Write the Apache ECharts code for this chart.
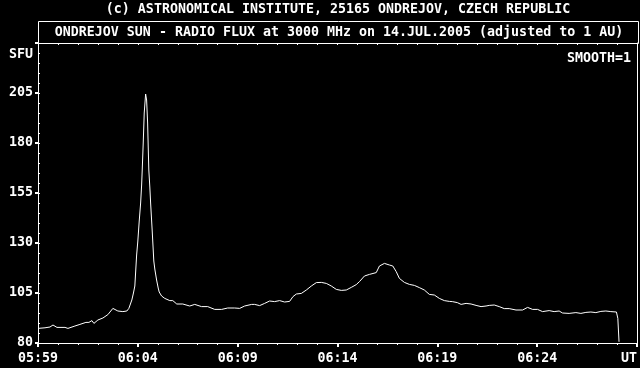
<!DOCTYPE html>
<html><head><meta charset="utf-8">
<script src="https://cdn.jsdelivr.net/npm/echarts@6/dist/echarts.min.js"></script>
<style>html,body{margin:0;padding:0;background:#000;}#c{width:640px;height:368px;}</style>
</head><body><div id="c"></div>
<script>
const headerText = '(c) ASTRONOMICAL INSTITUTE, 25165 ONDREJOV, CZECH REPUBLIC';
const titleText = 'ONDREJOV SUN - RADIO FLUX at 3000 MHz on 14.JUL.2005 (adjusted to 1 AU)';
const unitText = 'SFU';
const smoothText = 'SMOOTH=1';
const xTickLabels = ['05:59','06:04','06:09','06:14','06:19','06:24','UT'];
const yTickValues = [80,105,130,155,180,205];
// minutes after 05:59 UT
const minutesAfter0559 = [0.00,0.35,0.60,0.75,0.95,1.35,1.50,1.85,2.10,2.40,2.55,2.70,2.80,3.00,3.25,3.50,3.75,4.00,4.25,4.45,4.55,4.70,4.78,4.85,4.94,5.00,5.07,5.14,5.19,5.22,5.27,5.32,5.39,5.44,5.49,5.55,5.60,5.64,5.72,5.80,5.85,5.94,6.02,6.07,6.19,6.35,6.60,6.75,6.95,7.25,7.35,7.60,7.85,8.19,8.50,8.85,9.20,9.30,9.50,9.85,10.10,10.35,10.70,10.85,11.10,11.35,11.60,11.85,12.10,12.35,12.60,12.77,12.94,13.19,13.44,13.69,13.94,14.19,14.44,14.69,14.94,15.19,15.44,15.69,15.94,16.10,16.35,16.60,16.94,17.10,17.35,17.60,17.77,17.94,18.10,18.35,18.60,18.85,19.10,19.35,19.60,19.85,20.10,20.35,20.60,20.75,21.00,21.19,21.44,21.69,21.94,22.19,22.44,22.60,22.85,23.10,23.35,23.60,23.94,24.27,24.52,24.77,25.02,25.27,25.60,25.85,26.10,26.27,26.60,26.94,27.19,27.44,27.69,27.94,28.19,28.44,28.69,28.97,29.04,29.10];
const fluxSFU = [87.3,87.6,88.0,89.0,87.8,87.8,87.3,88.5,89.3,90.3,90.3,91.2,89.8,91.5,92.5,94.2,97.3,96.0,95.7,96.0,97.3,101.5,105,108.5,124,131,141,150,159,166.5,180,195,204.5,201.5,190,166.5,158,150,136,121,117,111.5,107.5,105.5,103.5,102.3,101.2,101.2,99.5,99.5,99.8,98.5,99.3,98.2,98.2,96.8,96.8,96.3,97.5,97.5,97.3,98.5,99.3,99.3,98.7,99.8,101,100.7,101.2,100.5,100.8,103.2,104.5,104.8,106.5,108.5,110.2,110.3,109.8,108.5,106.8,106.3,106.5,107.8,109.2,110.7,113.5,114.3,115.2,118.5,119.8,119,118.5,115.7,112.3,110.3,109.3,108.8,107.7,106.5,104.3,104,102.3,101.2,100.8,100.7,100.2,99.3,99.8,99.5,98.8,98.2,98.5,98.8,99,98.2,97.2,97.2,96.5,96.5,97.8,96.8,96.8,95.7,96.2,95.7,96,95,94.8,95.2,94.8,95.3,95.5,95.2,95.8,96,95.7,95.5,92.3,80.6];

const FONT = 'DejaVu Sans Mono';
const FS = 13.3;
const FW = 'bold';
const W = '#ffffff';
const fontStr = FW + ' ' + FS + 'px "' + FONT + '"';
const chart = echarts.init(document.getElementById('c'), null, {renderer: 'canvas'});
const seriesData = minutesAfter0559.map((t, i) => [t, fluxSFU[i]]);

chart.setOption({
  backgroundColor: '#000000',
  animation: false,
  grid: {left: 38, top: 43, width: 600, height: 300, containLabel: false},
  xAxis: [
    {
      type: 'value', position: 'bottom', min: 0, max: 30, interval: 5,
      axisLine: {show: true, onZero: false, lineStyle: {color: W, width: 1}},
      axisTick: {show: true, length: 4, lineStyle: {color: W, width: 2}},
      minorTick: {show: true, splitNumber: 5, length: 2, lineStyle: {color: W, width: 1}},
      splitLine: {show: false},
      axisLabel: {show: true, color: W, fontFamily: FONT, fontSize: FS, fontWeight: FW, margin: 9,
        showMinLabel: true, showMaxLabel: true, alignMaxLabel: 'right',
        formatter: v => xTickLabels[Math.round(v / 5)] || ''}
    },
    {
      type: 'value', position: 'top', min: 0, max: 30, interval: 1,
      axisLine: {show: true, onZero: false, lineStyle: {color: W, width: 1}},
      axisTick: {show: true, inside: true, length: 2, lineStyle: {color: W, width: 1}},
      splitLine: {show: false},
      axisLabel: {show: false}
    }
  ],
  yAxis: [
    {
      type: 'value', position: 'left', min: 80, max: 230, interval: 25,
      axisLine: {show: true, onZero: false, lineStyle: {color: W, width: 1}},
      axisTick: {show: true, length: 3, lineStyle: {color: W, width: 2}},
      splitLine: {show: false},
      axisLabel: {show: true, color: W, fontFamily: FONT, fontSize: FS, fontWeight: FW, margin: 5,
        backgroundColor: 'rgba(0,0,0,0)', padding: [4, 0, 0, 0], showMaxLabel: true,
        formatter: v => yTickValues.indexOf(v) >= 0 ? String(v) : ''}
    },
    {
      type: 'value', position: 'left', min: 80, max: 230, interval: 5,
      axisLine: {show: false},
      axisTick: {show: true, inside: true, length: 2, lineStyle: {color: W, width: 1}},
      splitLine: {show: false},
      axisLabel: {show: false}
    },
    {
      type: 'value', position: 'right', min: 80, max: 230, interval: 25,
      axisLine: {show: true, onZero: false, lineStyle: {color: W, width: 1}},
      axisTick: {show: false},
      splitLine: {show: false},
      axisLabel: {show: false}
    }
  ],
  series: [{
    type: 'line', xAxisIndex: 0, yAxisIndex: 0, data: seriesData,
    showSymbol: false, symbol: 'none', smooth: false,
    lineStyle: {color: W, width: 1}
  }],
  graphic: [
    {type: 'text', x: 338, y: 9.5, style: {text: headerText, fill: W, font: fontStr, textAlign: 'center', textVerticalAlign: 'middle'}},
    {type: 'rect', shape: {x: 38.5, y: 21.5, width: 600, height: 22}, style: {fill: 'none', stroke: W, lineWidth: 1}},
    {type: 'text', x: 339, y: 33, style: {text: titleText, fill: W, font: fontStr, textAlign: 'center', textVerticalAlign: 'middle'}},
    {type: 'text', x: 33, y: 54.5, style: {text: unitText, fill: W, font: fontStr, textAlign: 'right', textVerticalAlign: 'middle'}},
    {type: 'text', x: 631, y: 58.5, style: {text: smoothText, fill: W, font: fontStr, textAlign: 'right', textVerticalAlign: 'middle'}}
  ]
});
</script>
</body></html>
